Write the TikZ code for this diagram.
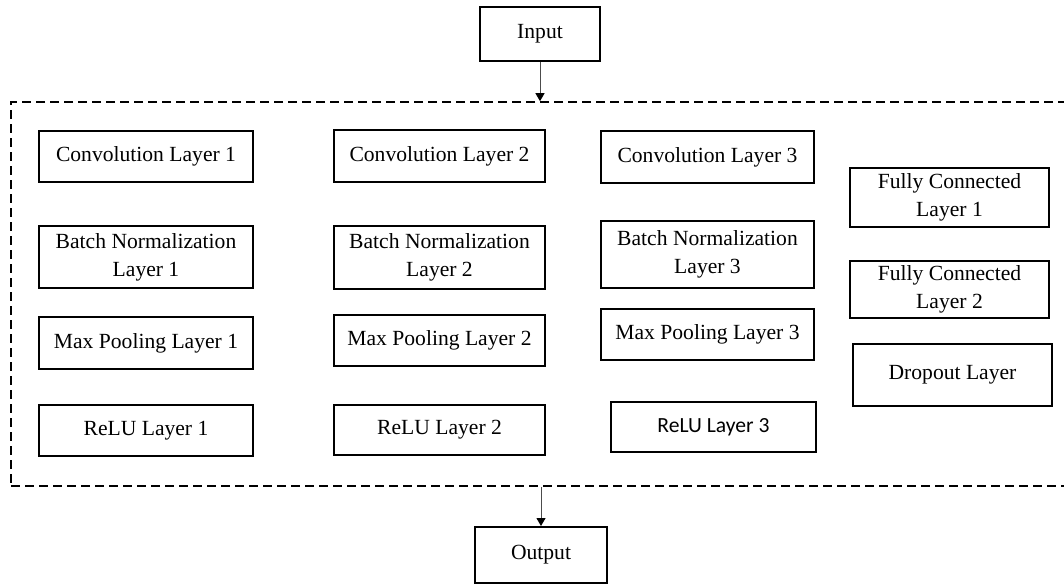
\documentclass[tikz,border=0pt]{standalone}
\usepackage{fontspec}
\setmainfont{Liberation Serif}
\newfontfamily\relufont{Carlito}
\usetikzlibrary{arrows.meta}
\newcommand{\pxu}{0.5pt}
\tikzset{
  layer/.style={draw=black, line width=1pt, fill=white, align=center, inner sep=0pt, font=\fontsize{10.8}{14}\selectfont},
  flow/.style={-{Triangle[length=4pt,width=4.5pt,color=black]}, line width=0.5pt, draw=black!70},
  frame/.style={draw=black, line width=0.8pt, dash pattern=on 4.5pt off 2.5pt, inner sep=0pt},
}
\newcommand{\Layer}[5]{%
  \node[layer, minimum width=#3*\pxu, minimum height=#4*\pxu] (#1) at #2 {#5};
}

\begin{document}
\begin{tikzpicture}[x=\pxu, y=-\pxu]
  \useasboundingbox (0,0) rectangle (1064,586);

  % dashed frame round the network (runs off the right edge)
  \node[frame, minimum width=1064*\pxu, minimum height=384*\pxu] (net) at (543,294) {};

  % input / output
  \Layer{inp}{(540,34)}{120}{54}{Input}
  \Layer{out}{(541,555)}{132}{56}{Output}

  % first block
  \Layer{conv1}{(146,156.5)}{214}{51}{Convolution Layer 1}
  \Layer{bn1}{(146,257)}{214}{62}{Batch Normalization\\Layer 1}
  \Layer{mp1}{(146,343)}{214}{52}{Max Pooling Layer 1}
  \Layer{relu1}{(146,430.5)}{214}{51}{ReLU Layer 1}

  % second block
  \Layer{conv2}{(439.5,156)}{211}{52}{Convolution Layer 2}
  \Layer{bn2}{(439.5,257.5)}{211}{63}{Batch Normalization\\Layer 2}
  \Layer{mp2}{(439.5,340.5)}{211}{51}{Max Pooling Layer 2}
  \Layer{relu2}{(439.5,430)}{211}{50}{ReLU Layer 2}

  % third block
  \Layer{conv3}{(707.5,157)}{213}{52}{Convolution Layer 3}
  \Layer{bn3}{(707.5,254.5)}{213}{67}{Batch Normalization\\Layer 3}
  \Layer{mp3}{(707.5,334.5)}{213}{51}{Max Pooling Layer 3}
  \Layer{relu3}{(713.5,427)}{205}{50}{\relufont ReLU Layer 3}

  % classifier
  \Layer{fc1}{(949.5,197.5)}{199}{59}{Fully Connected\\Layer 1}
  \Layer{fc2}{(949.5,289.5)}{199}{57}{Fully Connected\\Layer 2}
  \Layer{drop}{(952.5,375)}{199}{62}{Dropout Layer}

  \draw[flow] (inp.south) -- (inp |- net.north);
  \draw[flow] (out |- net.south) -- (out.north);
\end{tikzpicture}
\end{document}
